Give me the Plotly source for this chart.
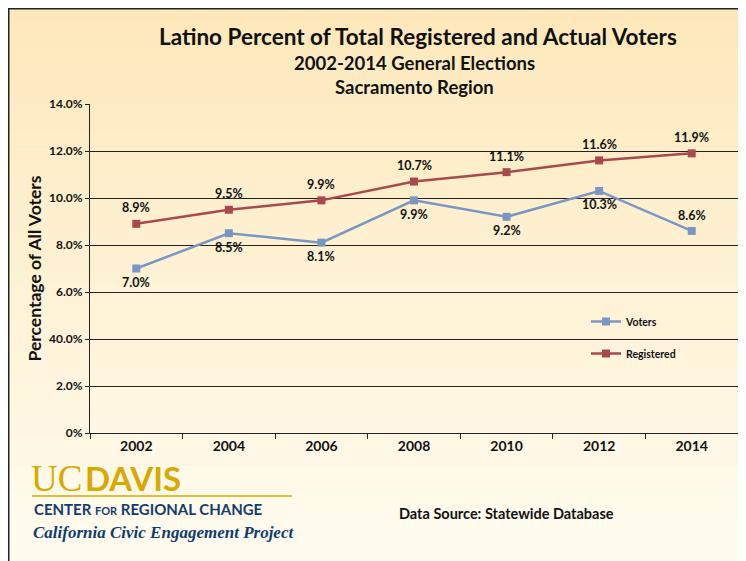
import plotly.graph_objects as go

years = ["2002", "2004", "2006", "2008", "2010", "2012", "2014"]
voters = [7.0, 8.5, 8.1, 9.9, 9.2, 10.3, 8.6]
registered = [8.9, 9.5, 9.9, 10.7, 11.1, 11.6, 11.9]
voter_labels = ["7.0%", "8.5%", "8.1%", "9.9%", "9.2%", "10.3%", "8.6%"]
registered_labels = ["8.9%", "9.5%", "9.9%", "10.7%", "11.1%", "11.6%", "11.9%"]
voter_label_above = [False, False, False, False, False, False, True]
y_tickvals = [0, 2, 4, 6, 8, 10, 12, 14]
y_ticktext = ["0%", "2.0%", "40.0%", "6.0%", "8.0%", "10.0%", "12.0%", "14.0%"]

OFF = 8  # page body margin
W, H = 738, 553
L, R, T, B = 82, 8, 96, 128
PW, PH = W - L - R, H - T - B

def px(xs):
    return (xs - OFF - L) / PW

def py(ys):
    return (H - B - (ys - OFF)) / PH

FONT = "Lato"
BLUE = "#7b96c2"
RED = "#a84a4c"

fig = go.Figure()
fig.add_trace(go.Scatter(
    x=years, y=voters, name="Voters", mode="lines+markers",
    line=dict(color=BLUE, width=2.5),
    marker=dict(symbol="square", size=8, color=BLUE),
    legendgroup="v",
))
fig.add_trace(go.Scatter(
    x=years, y=registered, name="Registered", mode="lines+markers",
    line=dict(color=RED, width=2.5),
    marker=dict(symbol="square", size=8, color=RED),
    legendgroup="r",
))

ann = []
lab_font = dict(family=FONT, size=12.5, color="#111111", weight="bold")
for i, (yv, t) in enumerate(zip(registered, registered_labels)):
    ann.append(dict(x=i, y=yv, xref="x", yref="y", text=t, showarrow=False,
                    yshift=16, font=lab_font))
for i, (yv, t, up) in enumerate(zip(voters, voter_labels, voter_label_above)):
    ann.append(dict(x=i, y=yv, xref="x", yref="y", text=t, showarrow=False,
                    yshift=15 if up else -14, font=lab_font))

# background gradient
shapes = []
n = 40
top_c = (254, 232, 186)
bot_c = (255, 252, 240)
y0s, y1s = OFF, OFF + H
for k_ in range(n):
    a = y0s + (y1s - y0s) * k_ / n
    b = y0s + (y1s - y0s) * (k_ + 1) / n
    t = (k_ + 0.5) / n
    c = tuple(round(top_c[k] + (bot_c[k] - top_c[k]) * t) for k in range(3))
    shapes.append(dict(type="rect", xref="paper", yref="paper", layer="below",
                       x0=px(OFF), x1=px(OFF + W + 2), y0=py(a), y1=py(b + 0.6),
                       line=dict(width=0), fillcolor="rgb(%d,%d,%d)" % c))
shapes.append(dict(type="line", xref="paper", yref="paper", layer="below",
                   x0=px(OFF + 0.75), x1=px(OFF + 0.75), y0=py(OFF), y1=py(OFF + H + 2),
                   line=dict(color="#222222", width=1.5)))
shapes.append(dict(type="line", xref="paper", yref="paper", layer="below",
                   x0=px(OFF), x1=px(OFF + W + 2), y0=py(OFF + 0.75), y1=py(OFF + 0.75),
                   line=dict(color="#222222", width=1.5)))
# logo gold rule
shapes.append(dict(type="line", xref="paper", yref="paper",
                   x0=px(32), x1=px(292), y0=py(496), y1=py(496),
                   line=dict(color="#d9a900", width=1.5)))

def add(text, x, y, size, color="#111111", family=FONT, bold=True, xanchor="center", style="normal"):
    ann.append(dict(text=text, x=px(x), y=py(y), xref="paper", yref="paper",
                    xanchor=xanchor, yanchor="middle", showarrow=False,
                    font=dict(family=family, size=size, color=color,
                              weight="bold" if bold else "normal", style=style)))

add("Latino Percent of Total Registered and Actual Voters", 418, 36, 22.5)
add("2002-2014 General Elections", 414, 63, 18.5)
add("Sacramento Region", 414, 87, 18.5)
add("Data Source: Statewide Database", 506, 513, 14.5)
add("UC", 29, 478, 37, "#d9a900", "Liberation Serif", False, "left")
add("DAVIS", 83, 478, 33, "#d9a900", FONT, True, "left")
add("CENTER <span style='font-size:11px'>FOR</span> REGIONAL CHANGE", 32, 509, 15, "#0f3d6e", FONT, True, "left")
add("California Civic Engagement Project", 31, 532, 17, "#0f3d6e", "Liberation Serif", True, "left", "italic")

fig.update_layout(
    width=W, height=H,
    margin=dict(l=L, r=R, t=T, b=B),
    paper_bgcolor="#c9ccdd",
    plot_bgcolor="rgba(0,0,0,0)",
    shapes=shapes, annotations=ann,
    showlegend=True,
    legend=dict(x=px(586), y=py(307), xanchor="left", yanchor="top",
                bgcolor="rgba(0,0,0,0)", font=dict(family=FONT, size=10.5, color="#111111", weight="bold"),
                traceorder="grouped", tracegroupgap=13, itemwidth=30),
    xaxis=dict(type="category", range=[-0.5, 6.5], showgrid=False,
               showline=True, linecolor="#222222", linewidth=1,
               ticks="outside", tickson="boundaries", ticklen=5, tickcolor="#222222",
               tickfont=dict(family=FONT, size=14, color="#111111", weight="bold"),
               fixedrange=True),
    yaxis=dict(range=[0, 14], tickvals=y_tickvals, ticktext=y_ticktext,
               showgrid=True, gridcolor="#222222", gridwidth=1,
               showline=True, linecolor="#222222", linewidth=1,
               ticks="outside", ticklen=4, tickcolor="#222222",
               tickfont=dict(family=FONT, size=12, color="#111111", weight="bold"),
               title=dict(text="Percentage of All Voters", standoff=2,
                          font=dict(family=FONT, size=17.5, color="#111111", weight="bold")),
               zeroline=False, fixedrange=True),
)

fig.write_html("out.html")
